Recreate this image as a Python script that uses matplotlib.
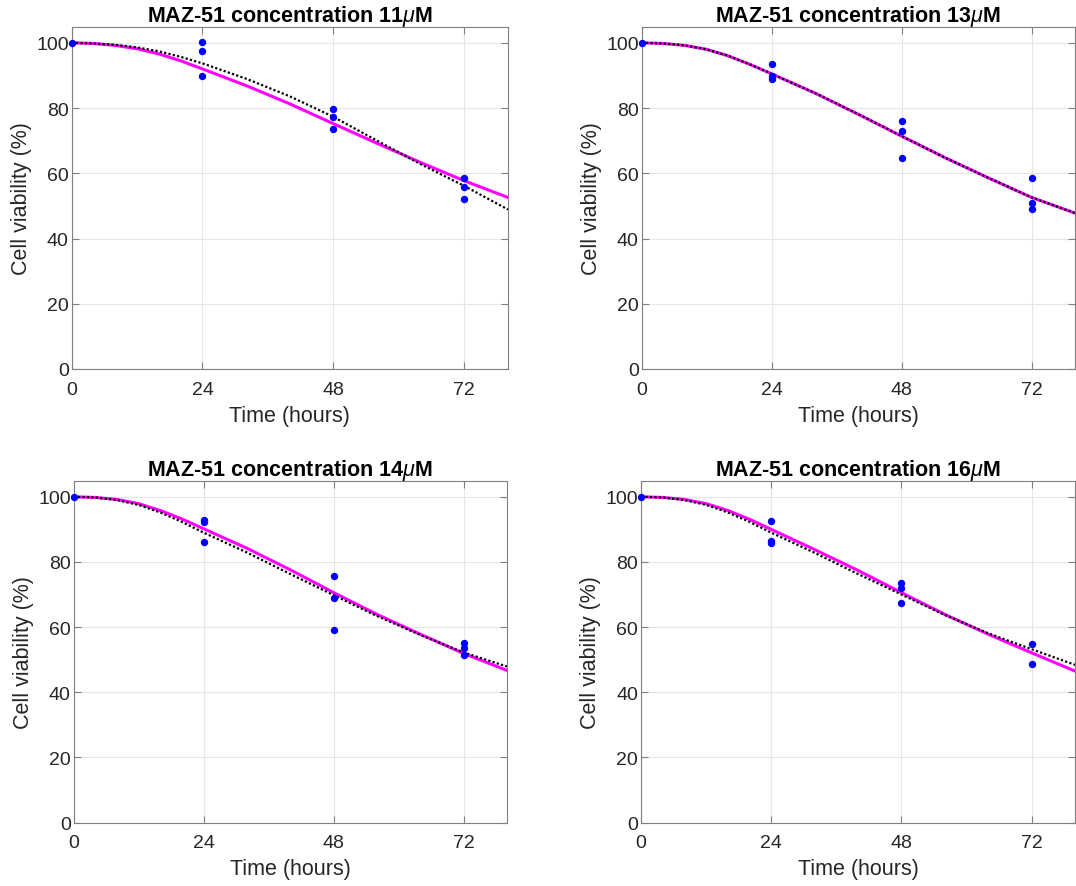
import matplotlib
matplotlib.use("Agg")
import matplotlib.pyplot as plt

plt.rcParams['font.family'] = ['Liberation Sans', 'DejaVu Sans']
plt.rcParams['mathtext.fontset'] = 'custom'
plt.rcParams['mathtext.it'] = 'Liberation Sans:italic'
plt.rcParams['mathtext.rm'] = 'Liberation Sans:bold'

titles = [r'MAZ-51 concentration 11$\mu$M', r'MAZ-51 concentration 13$\mu$M',
          r'MAZ-51 concentration 14$\mu$M', r'MAZ-51 concentration 16$\mu$M']

# observed data (time in hours, viability %)
obs_t_11 = [0, 24, 24, 24, 48, 48, 48, 72, 72, 72]
obs_v_11 = [100, 100.2, 97.6, 89.7, 79.8, 77.2, 73.7, 58.5, 55.9, 52.2]
obs_t_13 = [0, 24, 24, 24, 48, 48, 48, 72, 72, 72]
obs_v_13 = [100, 93.5, 89.7, 88.8, 75.9, 73.1, 64.8, 58.5, 51.0, 48.9]
obs_t_14 = [0, 24, 24, 24, 48, 48, 48, 72, 72, 72]
obs_v_14 = [100, 92.8, 92.4, 86.0, 75.7, 68.9, 59.2, 55.1, 53.5, 51.5]
obs_t_16 = [0, 24, 24, 24, 48, 48, 48, 72, 72]
obs_v_16 = [100, 92.5, 86.3, 85.9, 73.4, 72.1, 67.5, 54.8, 48.8]

# fitted curves
curve_t = [0, 4, 8, 12, 16, 20, 24, 32, 40, 48, 56, 64, 72, 80]
fit_magenta_11 = [100, 99.8, 99.2, 98.2, 96.6, 94.5, 92.0, 86.9, 81.3, 75.2, 69.2, 63.3, 57.7, 52.6]
fit_black_11 = [100, 99.8, 99.4, 98.6, 97.4, 95.7, 93.7, 89.0, 83.6, 77.3, 70.0, 62.8, 56.1, 48.9]
fit_magenta_13 = [100, 99.8, 99.2, 98.0, 96.0, 93.4, 90.5, 84.6, 78.1, 71.4, 64.8, 58.6, 52.6, 47.8]
fit_black_13 = [100, 99.8, 99.2, 98.0, 96.0, 93.4, 90.5, 84.6, 78.1, 71.4, 64.8, 58.6, 52.6, 47.8]
fit_magenta_14 = [100, 99.8, 99.2, 97.9, 95.8, 93.2, 90.2, 84.2, 77.6, 70.6, 63.9, 57.8, 51.9, 46.7]
fit_black_14 = [100, 99.8, 99.0, 97.5, 95.2, 92.3, 89.0, 82.9, 76.3, 69.8, 63.4, 57.6, 52.2, 47.9]
fit_magenta_16 = [100, 99.8, 99.2, 97.9, 95.8, 93.1, 90.0, 83.8, 77.4, 70.6, 63.9, 57.8, 52.1, 46.5]
fit_black_16 = [100, 99.8, 99.0, 97.5, 95.2, 92.3, 89.0, 82.8, 76.3, 70.0, 63.7, 58.1, 53.2, 48.4]

obs = [(obs_t_11, obs_v_11), (obs_t_13, obs_v_13), (obs_t_14, obs_v_14), (obs_t_16, obs_v_16)]
fits = [(fit_magenta_11, fit_black_11), (fit_magenta_13, fit_black_13),
        (fit_magenta_14, fit_black_14), (fit_magenta_16, fit_black_16)]

x_ticks = [0, 24, 48, 72]
y_ticks = [0, 20, 40, 60, 80, 100]

W, H = 1076, 887
fig = plt.figure(figsize=(W / 100, H / 100), dpi=100)

# axes rectangles in pixels: left, top, right, bottom
rects = [(71.5, 27.5, 508, 370), (641.5, 27.5, 1075, 370),
         (73.5, 481.5, 507, 823.5), (641, 481.5, 1075, 823.5)]

for i, (l, t, r, b) in enumerate(rects):
    ax = fig.add_axes([l / W, 1 - b / H, (r - l) / W, (b - t) / H])
    mag, blk = fits[i]
    ax.plot(curve_t, mag, color='#FF00FF', lw=2.2, zorder=3)
    ax.plot(curve_t, blk, color='black', lw=1.6, ls=(0, (1, 1)), zorder=4)
    ax.plot(obs[i][0], obs[i][1], 'o', color='#0000FF', ms=4.3, zorder=5, clip_on=False)
    ax.set_xlim(0, 80)
    ax.set_ylim(0, 105)
    ax.set_xticks(x_ticks)
    ax.set_yticks(y_ticks)
    ax.grid(True, color='#e6e6e6', lw=0.8)
    ax.set_axisbelow(True)
    for s in ax.spines.values():
        s.set_color('#808080')
        s.set_linewidth(0.8)
    ax.tick_params(direction='in', top=True, right=True, length=5, width=0.8,
                   color='#808080', labelcolor='#262626', labelsize=14)
    ax.tick_params(axis='x', pad=8.5)
    ax.tick_params(axis='y', pad=2)
    ax.set_xlabel('Time (hours)', fontsize=15.5, color='#262626', labelpad=5)
    ax.set_ylabel('Cell viability (%)', fontsize=15.5, color='#262626', labelpad=3)
    ax.set_title(titles[i], fontsize=15.5, fontweight='bold', pad=4)

fig.savefig('out.png', dpi=100)
